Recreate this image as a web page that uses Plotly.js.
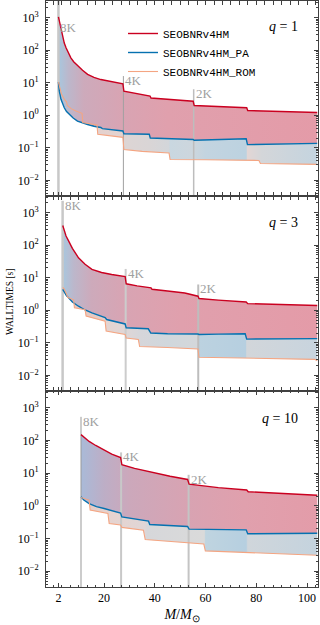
<!DOCTYPE html>
<html>
<head>
<meta charset="utf-8">
<script src="https://cdn.plot.ly/plotly-3.0.1.min.js"></script>
<style>
  html, body { margin: 0; padding: 0; background: #fff; }
  #chart { width: 320px; height: 625px; }
</style>
</head>
<body>
<div id="chart"></div>
<script>
// walltimes [s] vs total mass
// q = 1
const massRedQ1 = [2, 2.4, 2.75, 3.2, 3.65, 4.3, 5, 6, 6.9, 8, 9.5, 11.5, 13.5, 16, 18.7, 22, 25, 27.4, 27.8, 32, 38.1, 38.5, 45, 50, 55.1, 55.5, 65, 76.2, 76.6, 90, 104];
const wallRedQ1 = [1050, 760, 550, 360, 240, 165, 118, 80, 58, 44, 33, 24, 18, 14.5, 12.5, 11, 10, 9.3, 5.5, 4.7, 3.9, 3.4, 3.1, 2.9, 2.7, 2.0, 1.85, 1.7, 1.4, 1.3, 1.22];
const massPaQ1 = [2, 2.35, 3, 3.6, 4.3, 5.2, 6.3, 7.8, 9.5, 11.5, 13.5, 16, 18.7, 19.3, 23, 27.4, 27.8, 37.8, 38.2, 45, 55.1, 55.5, 65, 76, 76.5, 90, 104];
const wallPaQ1 = [10.5, 5.5, 3.1, 2.3, 1.7, 1.3, 1.07, 0.82, 0.66, 0.58, 0.52, 0.46, 0.42, 0.39, 0.36, 0.33, 0.27, 0.26, 0.2, 0.19, 0.18, 0.17, 0.18, 0.19, 0.125, 0.13, 0.137];
const massRomQ1 = [2, 2.5, 3.2, 4.3, 5.2, 5.5, 7, 8.9, 10.2, 11.3, 11.6, 14, 17.2, 17.5, 22, 27.4, 27.8, 35, 45.6, 46, 60, 81, 81.6, 104];
const wallRomQ1 = [10.5, 7, 4.5, 3.1, 2.6, 2.0, 1.6, 1.35, 1.2, 1.15, 0.6, 0.56, 0.5, 0.26, 0.24, 0.21, 0.089, 0.078, 0.069, 0.044, 0.043, 0.041, 0.033, 0.031];

// q = 3
const massRedQ3 = [3.7, 4.2, 5, 6, 7.5, 9.9, 12.5, 15.2, 19, 23, 28.3, 28.7, 33, 38.5, 38.9, 45, 51.8, 57, 57.4, 65, 76, 76.6, 90, 104];
const wallRedQ3 = [400, 280, 190, 135, 80, 41, 26, 18, 14.5, 12.5, 10.8, 6.5, 5.6, 4.9, 4.4, 3.9, 3.4, 2.7, 2.3, 2.05, 1.8, 1.6, 1.5, 1.4];
const massPaQ3 = [3.7, 4.5, 5.2, 6, 7.5, 9.9, 12.5, 15.2, 18, 20.4, 21, 25, 28.3, 28.7, 37.4, 38.4, 45, 57, 57.4, 65, 75.6, 76.2, 90, 104];
const wallPaQ3 = [4.4, 3.3, 2.8, 2.4, 1.8, 1.33, 1.02, 0.83, 0.68, 0.6, 0.52, 0.44, 0.38, 0.29, 0.27, 0.2, 0.19, 0.186, 0.18, 0.185, 0.19, 0.13, 0.13, 0.135];
const massRomQ3 = [3.7, 4.3, 5.3, 5.6, 8, 8.3, 12.5, 12.9, 20.4, 20.8, 28.3, 28.7, 33.5, 34, 45, 57, 57.4, 80, 103, 104];
const wallRomQ3 = [5, 4.5, 3.0, 2.5, 2.1, 1.2, 1.04, 0.66, 0.46, 0.23, 0.18, 0.14, 0.126, 0.077, 0.072, 0.065, 0.036, 0.034, 0.031, 0.028];

// q = 10
const massRedQ10 = [10.9, 12.5, 14.1, 16.7, 20, 23, 26.5, 27, 32, 39, 46, 52.9, 53.5, 65, 76.2, 76.8, 90, 104];
const wallRedQ10 = [150, 115, 93, 70, 50, 38, 30, 18, 14, 10.5, 8, 6.4, 4.6, 3.6, 3.05, 2.7, 2.35, 2.1];
const massPaQ10 = [10.9, 12, 14.1, 17, 20, 23, 26.5, 27, 32, 37.5, 38, 45, 52.9, 53.5, 65, 76, 76.6, 90, 104];
const wallPaQ10 = [1.9, 1.5, 1.17, 0.95, 0.83, 0.7, 0.6, 0.46, 0.4, 0.34, 0.27, 0.25, 0.235, 0.195, 0.19, 0.185, 0.14, 0.14, 0.145];
const massRomQ10 = [10.9, 14.1, 14.5, 21.5, 22, 26.5, 27, 35.5, 36.2, 53.3, 59.3, 59.9, 80, 104];
const wallRomQ10 = [1.8, 1.5, 0.74, 0.59, 0.29, 0.26, 0.22, 0.18, 0.093, 0.074, 0.068, 0.042, 0.036, 0.031];

// sampling-rate switch points (mass, top of marker line, top of label)
const srLabels = ['8K', '4K', '2K'];
const srMassQ1 = [2, 27.6, 55.3];
const srTopQ1 = [5000, 16, 6.3];
const srLabelQ1 = [680, 16, 6.3];
const srMassQ3 = [3.65, 28.5, 57.1];
const srTopQ3 = [2300, 18.6, 6.2];
const srLabelQ3 = [2300, 18.6, 6.2];
const srMassQ10 = [10.9, 26.7, 53.3];
const srTopQ10 = [525, 43, 8.9];
const srLabelQ10 = [525, 43, 8.9];

const qLabels = ['<i>q</i> = 1', '<i>q</i> = 3', '<i>q</i> = 10'];
const legendNames = ['SEOBNRv4HM', 'SEOBNRv4HM_PA', 'SEOBNRv4HM_ROM'];
const xTickVals = [2, 20, 40, 60, 80, 100];
const yTickVals = [0.01, 0.1, 1, 10, 100, 1000];
const yTickText = ['10<sup>−2</sup>', '10<sup>−1</sup>', '10<sup>0</sup>', '10<sup>1</sup>', '10<sup>2</sup>', '10<sup>3</sup>'];

// ---- styling ----
const RED = '#ca0020', BLUE = '#0571b0', ORANGE = '#f4a582';
const SERIF = 'Liberation Serif';
const MONO = 'Liberation Mono';
const M_END = 104;

const upperStops = [
  [[2, '#a8c7de'], [6, '#bcb7cb'], [12, '#cdaabb'], [27, '#d8a4b3'], [45, '#e0a0ad'], [104, '#e49ba8']],
  [[3.7, '#a8c7de'], [8, '#bcb7cb'], [15, '#cdaabb'], [28, '#d8a4b3'], [50, '#e0a0ad'], [104, '#e49ba8']],
  [[10.9, '#a9bad8'], [20, '#bdaec6'], [30, '#cca8bb'], [53, '#d8a3b2'], [75, '#e0a0ad'], [104, '#e39ca9']]
];
const lowerStops = [
  [[2, '#e8c6bc'], [12, '#e6d0cc'], [27.5, '#e3d3d0'], [27.7, '#ddd5d4'], [38, '#d9d5d6'], [45.5, '#d3d6da'], [46, '#c9d7e0'], [55, '#cdd6dd'], [60, '#c3d4e0'], [76, '#bcd2e0'], [76.5, '#e2d6d5'], [82, '#d4d6d9'], [104, '#c4d4df']],
  [[3.7, '#e6c4bc'], [20, '#e6ccc6'], [21, '#e5d4d0'], [28.5, '#dfd6d6'], [34, '#d6d6da'], [45, '#d0d7dc'], [56.9, '#d4d7da'], [57.2, '#bcd2e0'], [75.8, '#b6cfe0'], [76.2, '#d2d6da'], [104, '#c8d4de']],
  [[10.9, '#e2cbc4'], [22, '#e6d3cf'], [36, '#e0d6d6'], [37, '#d6d7da'], [59.5, '#dadada'], [60, '#bfd4e0'], [76, '#b6cfe0'], [76.6, '#d0d6db'], [104, '#c4d3de']]
];
const srLineStyle = [
  [['#c8c8c8', 2.5], ['#a0a0a0', 1], ['#bdbdbd', 1.5]],
  [['#c8c8c8', 2.5], ['#cccccc', 2], ['#bdbdbd', 2]],
  [['#999999', 1], ['#c8c8c8', 2], ['#c4c4c4', 2]]
];

function toScale(stops) {
  const a = stops[0][0], b = stops[stops.length - 1][0];
  return stops.map(s => [(s[0] - a) / (b - a), s[1]]);
}

const panels = [
  { red: [massRedQ1, wallRedQ1], pa: [massPaQ1, wallPaQ1], rom: [massRomQ1, wallRomQ1], sr: [srMassQ1, srTopQ1, srLabelQ1] },
  { red: [massRedQ3, wallRedQ3], pa: [massPaQ3, wallPaQ3], rom: [massRomQ3, wallRomQ3], sr: [srMassQ3, srTopQ3, srLabelQ3] },
  { red: [massRedQ10, wallRedQ10], pa: [massPaQ10, wallPaQ10], rom: [massRomQ10, wallRomQ10], sr: [srMassQ10, srTopQ10, srLabelQ10] }
];

const traces = [];
const annotations = [];

panels.forEach((p, i) => {
  const ya = i === 0 ? 'y' : 'y' + (i + 1);
  const base = { xaxis: 'x', yaxis: ya, hoverinfo: 'skip', showlegend: false };

  // fills: ROM (base) -> PA (lower band) -> full model (upper band)
  traces.push({ ...base, x: p.rom[0], y: p.rom[1], mode: 'lines', line: { width: 0 } });
  traces.push({ ...base, x: p.pa[0], y: p.pa[1], mode: 'lines', line: { width: 0 }, fill: 'tonexty',
    fillgradient: { type: 'horizontal', colorscale: toScale(lowerStops[i]), start: lowerStops[i][0][0], stop: M_END } });
  traces.push({ ...base, x: p.red[0], y: p.red[1], mode: 'lines', line: { width: 0 }, fill: 'tonexty',
    fillgradient: { type: 'horizontal', colorscale: toScale(upperStops[i]), start: upperStops[i][0][0], stop: M_END } });

  // sampling-rate markers
  p.sr[0].forEach((m, k) => {
    const st = srLineStyle[i][k];
    traces.push({ ...base, x: [m, m], y: [0.001, p.sr[1][k]], mode: 'lines', line: { color: st[0], width: st[1] } });
    annotations.push({
      x: m, y: Math.log10(p.sr[2][k]), xref: 'x', yref: ya, text: srLabels[k], showarrow: false,
      xanchor: 'left', yanchor: 'top', xshift: 0, yshift: 5,
      font: { family: SERIF, size: 13, color: '#a0a0a0' }
    });
  });

  // curves
  const show = i === 0;
  traces.push({ ...base, x: p.red[0], y: p.red[1], mode: 'lines', name: legendNames[0], showlegend: show,
    line: { color: RED, width: 1.4 } });
  traces.push({ ...base, x: p.pa[0], y: p.pa[1], mode: 'lines', name: legendNames[1], showlegend: show,
    line: { color: BLUE, width: 1.4 } });
  traces.push({ ...base, x: p.rom[0], y: p.rom[1], mode: 'lines', name: legendNames[2], showlegend: show,
    line: { color: ORANGE, width: 1.1 } });
});

const plotH = 586, plotW = 272;
const qY = [26, 222, 417];
qLabels.forEach((t, i) => {
  annotations.push({
    x: (300 - 46) / plotW, y: 1 - qY[i] / plotH, xref: 'paper', yref: 'paper', text: t, showarrow: false,
    xanchor: 'right', yanchor: 'middle', font: { family: SERIF, size: 14, color: '#000' }
  });
});
annotations.push({
  x: (10 - 46) / plotW, y: 1 - 301 / plotH, xref: 'paper', yref: 'paper', text: 'WALLTIMES [s]',
  showarrow: false, textangle: -90, xanchor: 'center', yanchor: 'middle',
  font: { family: SERIF, size: 9.5, color: '#000' }
});

const minorY = [];
for (let n = -3; n <= 3; n++) for (let k = 2; k <= 9; k++) minorY.push(k * Math.pow(10, n));

function yAxis(domain) {
  return {
    domain: domain, anchor: 'x', type: 'log', range: [-2.48, 3.51],
    tickmode: 'array', tickvals: yTickVals, ticktext: yTickText,
    ticks: 'inside', ticklen: 4, tickcolor: '#404040', ticklabelstandoff: 4,
    minor: { tickmode: 'array', tickvals: minorY, ticks: 'inside', ticklen: 2, tickcolor: '#404040', showgrid: false },
    showline: true, linecolor: '#404040', linewidth: 1, mirror: 'ticks',
    showgrid: false, zeroline: false,
    tickfont: { family: SERIF, size: 12, color: '#000' }
  };
}

const d1 = 196 / plotH, d2 = 391 / plotH;
const layout = {
  width: 320, height: 625,
  margin: { l: 46, r: 2, t: 1, b: 38 },
  paper_bgcolor: '#fff', plot_bgcolor: '#fff',
  showlegend: true,
  legend: {
    x: (123 - 46) / plotW, y: 1 - 18 / plotH, xanchor: 'left', yanchor: 'top',
    traceorder: 'normal',
    bgcolor: 'rgba(0,0,0,0)', font: { family: MONO, size: 11, color: '#000' },
    tracegroupgap: 0, itemwidth: 30
  },
  xaxis: {
    domain: [0, 1], anchor: 'y3', range: [-2.9, 104.3],
    tickmode: 'array', tickvals: xTickVals,
    ticks: 'inside', ticklen: 4, tickcolor: '#404040',
    minor: { tickmode: 'linear', tick0: 0, dtick: 10 / 3, ticks: 'inside', ticklen: 2, tickcolor: '#404040', showgrid: false },
    showline: true, linecolor: '#404040', linewidth: 1, mirror: 'allticks',
    showgrid: false, zeroline: false,
    tickfont: { family: SERIF, size: 12, color: '#000' },
    title: { text: '<i>M</i>/<i>M</i><sub>⊙</sub>', font: { family: SERIF, size: 14, color: '#000' }, standoff: 4 }
  },
  yaxis: yAxis([d2, 1]),
  yaxis2: yAxis([d1, d2]),
  yaxis3: yAxis([0, d1]),
  annotations: annotations
};

Plotly.newPlot('chart', traces, layout, { staticPlot: true, displayModeBar: false });
</script>
</body>
</html>
